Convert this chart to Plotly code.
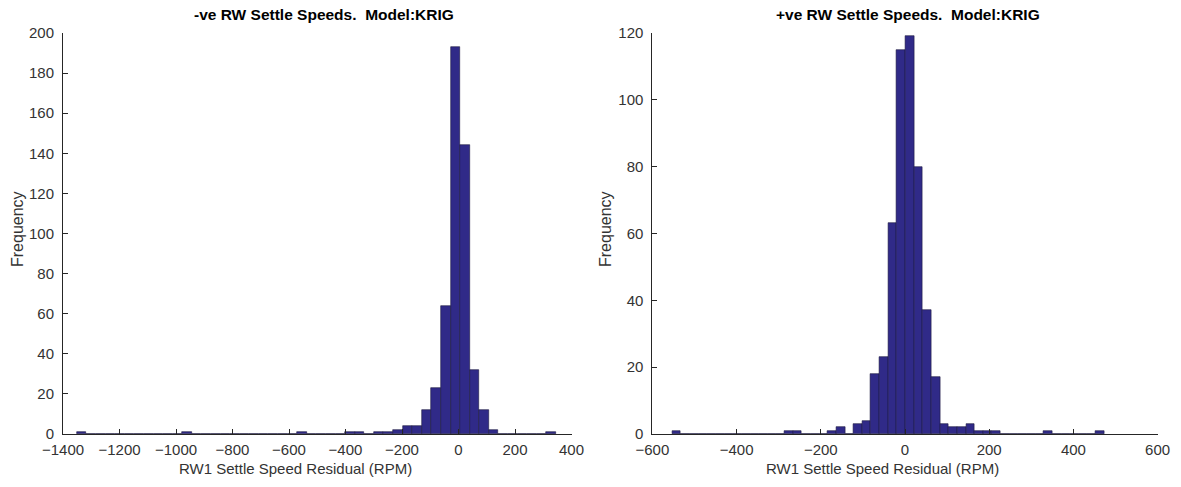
import numpy as np
import plotly.graph_objects as go

# ---- data (histogram counts, 50 bins each) ----
neg_min, neg_max = -1351.0, 345.0
neg_counts = [1, 0, 0, 0, 0, 0, 0, 0, 0, 0,
              0, 1, 0, 0, 0, 0, 0, 0, 0, 0,
              0, 0, 0, 1, 0, 0, 0, 0, 1, 1,
              0, 1, 1, 2, 4, 4, 12, 23, 64, 193,
              144, 32, 12, 2, 0, 0, 0, 0, 0, 1]

pos_min, pos_max = -553.0, 473.0
pos_counts = [1, 0, 0, 0, 0, 0, 0, 0, 0, 0,
              0, 0, 0, 1, 1, 0, 0, 0, 1, 2,
              0, 3, 4, 18, 23, 63, 115, 119, 80, 37,
              17, 3, 2, 2, 3, 1, 1, 1, 0, 0,
              0, 0, 0, 1, 0, 0, 0, 0, 0, 1]

left_title = "-ve RW Settle Speeds.  Model:KRIG"
right_title = "+ve RW Settle Speeds.  Model:KRIG"
x_label = "RW1 Settle Speed Residual (RPM)"
y_label = "Frequency"

left_xticks = [-1400, -1200, -1000, -800, -600, -400, -200, 0, 200, 400]
left_yticks = [0, 20, 40, 60, 80, 100, 120, 140, 160, 180, 200]
right_xticks = [-600, -400, -200, 0, 200, 400, 600]
right_yticks = [0, 20, 40, 60, 80, 100, 120]

# ---- styling ----
W, H = 1181, 487
FACE = "#302a88"
EDGE = "#1c1a40"
AX = "#262626"
TXT = "#333333"
FONT = "Liberation Sans, Arial, sans-serif"


def bins(lo, hi, counts):
    n = len(counts)
    edges = np.linspace(lo, hi, n + 1)
    centers = (edges[:-1] + edges[1:]) / 2
    width = (hi - lo) / n
    return centers, width


fig = go.Figure()

lc, lw = bins(neg_min, neg_max, neg_counts)
rc, rw = bins(pos_min, pos_max, pos_counts)

fig.add_trace(go.Bar(x=lc, y=neg_counts, width=lw, xaxis="x", yaxis="y",
                     marker=dict(color=FACE, line=dict(color=EDGE, width=0.6)),
                     showlegend=False))
fig.add_trace(go.Bar(x=rc, y=pos_counts, width=rw, xaxis="x2", yaxis="y2",
                     marker=dict(color=FACE, line=dict(color=EDGE, width=0.6)),
                     showlegend=False))

ydom = [1 - 434 / H, 1 - 33 / H]
ldom = [63 / W, 571.5 / W]
rdom = [652.4 / W, 1157.6 / W]

common_x = dict(showline=True, linecolor=AX, linewidth=1, ticks="inside",
                ticklen=5, tickcolor=AX, showgrid=False, zeroline=False,
                automargin=False, ticklabelstandoff=2,
                tickfont=dict(family=FONT, size=15, color=TXT))
common_y = dict(showline=True, linecolor=AX, linewidth=1, ticks="inside",
                ticklen=5, tickcolor=AX, showgrid=False, zeroline=False,
                automargin=False, ticklabelstandoff=5,
                tickfont=dict(family=FONT, size=15, color=TXT))


def ann(text, x, y, size, bold=False, angle=0, color=TXT):
    return dict(text=("<b>%s</b>" % text) if bold else text, x=x, y=y,
                xref="paper", yref="paper", showarrow=False,
                xanchor="center", yanchor="middle", textangle=angle,
                font=dict(family=FONT, size=size, color=color))


fig.update_layout(
    width=W, height=H,
    margin=dict(l=0, r=0, t=0, b=0, autoexpand=False),
    paper_bgcolor="white", plot_bgcolor="white",
    bargap=0,
    xaxis=dict(domain=ldom, range=[-1400, 400], tickvals=left_xticks,
               anchor="y", **common_x),
    yaxis=dict(domain=ydom, range=[0, 200], tickvals=left_yticks,
               anchor="x", **common_y),
    xaxis2=dict(domain=rdom, range=[-600, 600], tickvals=right_xticks,
                anchor="y2", **common_x),
    yaxis2=dict(domain=ydom, range=[0, 120], tickvals=right_yticks,
                anchor="x2", **common_y),
    annotations=[
        ann(left_title, 324 / W, 1 - 15 / H, 15.5, bold=True, color="black"),
        ann(right_title, 908 / W, 1 - 15 / H, 15.5, bold=True, color="black"),
        ann(x_label, 295 / W, 1 - 468 / H, 15),
        ann(x_label, 882 / W, 1 - 468 / H, 15),
        ann(y_label, 17 / W, 1 - 229 / H, 16, angle=-90),
        ann(y_label, 605 / W, 1 - 229 / H, 16, angle=-90),
    ],
)

fig.write_html("out.html")
